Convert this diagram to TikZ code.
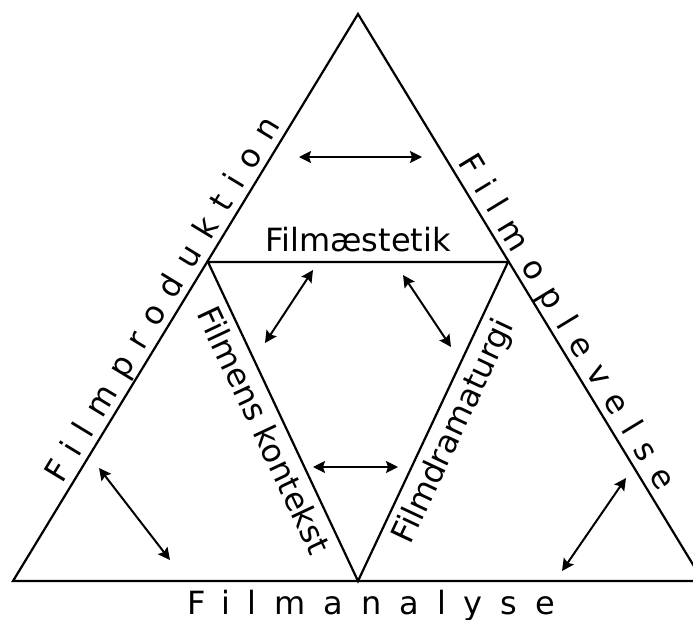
\documentclass[tikz,border=0pt]{standalone}
\usepackage{fontspec}
\setmainfont{DejaVu Sans}
\newfontfamily\spacedfont[LetterSpace=44]{DejaVu Sans}
\newfontfamily\widefont[LetterSpace=56]{DejaVu Sans}
\usepackage{tikz}
\usetikzlibrary{arrows.meta}
\newcommand{\lblfont}{\fontsize{32}{38}\selectfont}

\begin{document}
\begin{tikzpicture}[x=1pt, y=-1pt, every node/.style={font=\lblfont}, t/.style={line width=2.2pt,line join=miter}, a/.style={{Stealth[length=12pt,width=12pt,inset=2pt]}-{Stealth[length=12pt,width=12pt,inset=2pt]},line width=2pt}, sp/.style={font=\spacedfont\lblfont,inner sep=0pt}]
\useasboundingbox (0,0) rectangle (693,619);
\clip (0,0) rectangle (693,619);
% outer triangle
\coordinate (top) at (358,14);
\coordinate (bl) at (13,581);
\coordinate (br) at (703,581);
% inner triangle
\coordinate (tl) at (208,262);
\coordinate (tr) at (508,262);
\coordinate (b) at (358,581);
\draw[t] (bl) -- node[sp,sloped,above,pos=0.48] (prod) {Filmproduktion} (top) -- node[sp,sloped,above,pos=0.56] (opl) {Filmoplevelse} (br) -- cycle;
\draw[t] (tl) -- node[above,inner sep=9pt] (aest) {Filmæstetik} (tr) -- (b) -- cycle;
\path (tl) -- node[sloped,below,inner sep=8pt] (kont) {Filmens kontekst} (b);
\path (b) -- node[sloped,below,inner sep=8pt] (dram) {Filmdramaturgi} (tr);
\node[font=\widefont\lblfont,anchor=base,inner sep=0pt] (anal) at (371,614) {Filmanalyse};
% arrows
\coordinate (a1) at (299,157); \coordinate (a2) at (422,157);
\coordinate (b1) at (313,270); \coordinate (b2) at (265,343);
\coordinate (c1) at (403,275); \coordinate (c2) at (451,347);
\coordinate (d1) at (313,467); \coordinate (d2) at (398,467);
\coordinate (e1) at (99,468); \coordinate (e2) at (170,560);
\coordinate (f1) at (626,478); \coordinate (f2) at (562,571);
\foreach \p/\q in {a1/a2,b1/b2,c1/c2,d1/d2,e1/e2,f1/f2}
  \draw[a] (\p) -- (\q);
\end{tikzpicture}
\end{document}
